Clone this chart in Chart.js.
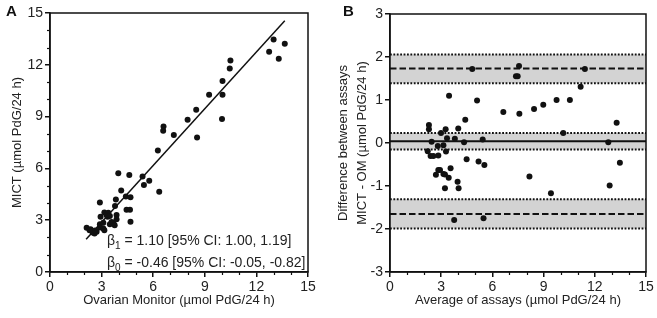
<!DOCTYPE html>
<html>
<head>
<meta charset="utf-8">
<script src="https://cdn.jsdelivr.net/npm/chart.js@4.4.1/dist/chart.umd.min.js"></script>
<style>
  body { margin: 0; background: #fff; width: 657px; height: 318px; overflow: hidden; position: relative; font-family: "Liberation Sans", Arial, sans-serif; }
  .panel { position: absolute; top: 0; }
  .tag { position: absolute; top: 2px; font-weight: bold; font-size: 15px; color: #111; }
</style>
</head>
<body>
<div class="panel" style="left:0"><canvas id="chartA" width="330" height="318"></canvas></div>
<div class="panel" style="left:330px"><canvas id="chartB" width="327" height="318"></canvas></div>
<div class="tag" style="left:6px">A</div>
<div class="tag" style="left:343px">B</div>
<script>
// Panel A: MICT vs Ovarian Monitor
const omValues = [2.13, 2.36, 2.48, 2.59, 2.71, 2.62, 2.3, 2.9, 3.1, 3.16, 2.9, 3.1, 3.48, 3.58, 3.68, 3.76,
  2.94, 3.16, 3.39, 3.29, 3.35, 3.48, 3.87, 3.87, 2.9, 3.78, 3.83, 4.14, 4.41, 4.68, 4.45, 4.65, 4.68,
  3.97, 4.61, 5.38, 5.46, 5.77, 6.35, 6.27, 6.6, 6.58, 7.2, 8.0, 8.5, 8.55, 10.0, 9.25, 10.03, 10.03,
  10.45, 10.49, 12.74, 13.0, 13.3, 13.65];
const mictValues = [2.56, 2.48, 2.29, 2.23, 2.33, 2.4, 2.42, 2.58, 2.52, 2.42, 2.77, 2.85, 2.77, 2.9, 2.85, 2.71,
  3.2, 3.45, 3.43, 3.3, 3.2, 3.24, 3.3, 3.05, 4.03, 3.82, 4.2, 4.72, 4.37, 4.33, 3.6, 3.6, 2.91,
  5.72, 5.62, 5.53, 5.04, 5.29, 4.65, 7.03, 8.42, 8.18, 7.93, 8.82, 9.4, 7.79, 8.86, 10.27, 10.27, 11.06,
  11.78, 12.25, 12.75, 13.47, 12.35, 13.22];
const fitLineX = [2.1, 13.65];
const fitLineY = [1.9, 14.55];
const betaLines = [
  ['β', '1', ' = 1.10 [95% CI: 1.00, 1.19]'],
  ['β', '0', ' = -0.46 [95% CI: -0.05, -0.82]']
];

// Panel B: Bland-Altman
const avgValues = [2.28, 2.28, 2.21, 2.38, 2.54, 2.44, 2.69, 2.8, 2.83, 2.83, 2.93, 2.99, 3.13, 3.13, 3.22, 3.22,
  3.26, 3.28, 3.34, 3.44, 3.46, 3.55, 3.76, 3.8, 3.96, 4.0, 4.02, 4.34, 4.41, 4.49, 4.82, 5.1, 5.19, 5.43,
  5.48, 5.53, 6.64, 7.38, 7.48, 7.56, 7.58, 8.17, 8.44, 8.98, 9.43, 9.76, 10.15, 10.54, 11.17, 11.42,
  12.79, 12.87, 13.28, 13.47];
const diffValues = [0.42, 0.32, -0.19, -0.3, -0.3, 0.03, -0.74, -0.07, -0.29, -0.63, -0.63, 0.23, -0.05, -0.72, -0.73, -1.05,
  0.32, -0.2, 0.11, -0.81, 1.1, -0.59, -1.79, 0.1, -0.9, 0.34, -1.05, 0.02, 0.54, -0.38, 1.72, 0.99, -0.43, 0.08,
  -1.75, -0.51, 0.72, 1.55, 1.55, 1.79, 0.68, -0.78, 0.79, 0.89, -1.17, 1.0, 0.23, 1.0, 1.31, 1.72,
  0.02, -0.99, 0.47, -0.46];
const lineValues = [-1.65, 0.04, 1.73];      // lower LoA, mean bias, upper LoA
const ciLower = [-1.99, -0.15, 1.39];
const ciUpper = [-1.31, 0.23, 2.06];

const xTicks = [0, 3, 6, 9, 12, 15];
const yTicksA = [0, 3, 6, 9, 12, 15];
const yTicksB = [-3, -2, -1, 0, 1, 2, 3];

const ink = '#111';
const textColor = '#222';
const fontFamily = '"Liberation Sans", Arial, sans-serif';

// frame on all four sides + short minor ticks
const framePlugin = {
  id: 'frame',
  afterDraw(chart, args, opts) {
    const ctx = chart.ctx;
    const a = chart.chartArea;
    ctx.save();
    ctx.strokeStyle = ink;
    ctx.lineWidth = 1.5;
    ctx.strokeRect(a.left, a.top, a.right - a.left, a.bottom - a.top);
    ctx.lineWidth = 1.2;
    const xs = chart.scales.x;
    for (let v = xs.min; v <= xs.max; v++) {
      if (v % 3 === 0) continue;
      const px = Math.round(xs.getPixelForValue(v)) + 0.5;
      ctx.beginPath(); ctx.moveTo(px, a.bottom); ctx.lineTo(px, a.bottom + 3); ctx.stroke();
    }
    if (opts.minorY) {
      const ys = chart.scales.y;
      for (let v = ys.min; v <= ys.max; v++) {
        if (v % 3 === 0) continue;
        const py = Math.round(ys.getPixelForValue(v)) + 0.5;
        ctx.beginPath(); ctx.moveTo(a.left, py); ctx.lineTo(a.left - 3, py); ctx.stroke();
      }
    }
    ctx.restore();
  }
};

// regression coefficients text with subscripts
const betaPlugin = {
  id: 'betaText',
  afterDatasetsDraw(chart) {
    const ctx = chart.ctx;
    const a = chart.chartArea;
    ctx.save();
    ctx.fillStyle = textColor;
    ctx.textBaseline = 'alphabetic';
    betaLines.forEach((parts, i) => {
      let x = a.left + 57;
      const y = a.bottom - 27 + i * 22;
      ctx.font = '14px ' + fontFamily;
      ctx.fillText(parts[0], x, y);
      x += ctx.measureText(parts[0]).width;
      ctx.font = '10px ' + fontFamily;
      ctx.fillText(parts[1], x, y + 4);
      x += ctx.measureText(parts[1]).width;
      ctx.font = '14px ' + fontFamily;
      ctx.fillText(parts[2], x, y);
    });
    ctx.restore();
  }
};

function axis(min, max, ticks, title, titleOpts, fixed) {
  return {
    type: 'linear',
    min: min,
    max: max,
    afterBuildTicks: s => { s.ticks = ticks.map(v => ({ value: v })); },
    afterFit: fixed,
    grid: { drawOnChartArea: false, tickLength: 5, color: ink, lineWidth: 1.5 },
    border: { color: ink, width: 1.5 },
    ticks: { color: textColor, padding: 2, font: { size: 14, family: fontFamily } },
    title: Object.assign({ display: true, text: title, color: textColor,
      font: { size: 13, family: fontFamily } }, titleOpts)
  };
}

const scatterStyle = {
  pointRadius: 3,
  pointBackgroundColor: ink,
  pointBorderWidth: 0,
  showLine: false,
  order: 0
};

new Chart(document.getElementById('chartA'), {
  type: 'scatter',
  data: {
    datasets: [
      Object.assign({ data: omValues.map((v, i) => ({ x: v, y: mictValues[i] })) }, scatterStyle),
      {
        type: 'line',
        data: fitLineX.map((v, i) => ({ x: v, y: fitLineY[i] })),
        borderColor: ink,
        borderWidth: 1.5,
        pointRadius: 0,
        fill: false,
        order: 1
      }
    ]
  },
  options: {
    responsive: false,
    animation: false,
    layout: { padding: { top: 13, right: 22, left: 0, bottom: 0 } },
    plugins: { legend: { display: false }, tooltip: { enabled: false }, frame: { minorY: true } },
    scales: {
      x: axis(0, 15, xTicks, 'Ovarian Monitor (µmol PdG/24 h)', { padding: { top: 0, bottom: 10 } },
        s => { s.height = 46; }),
      y: axis(0, 15, yTicksA, 'MICT (µmol PdG/24 h)', { padding: { top: 10, bottom: 0 } },
        s => { s.width = 50; })
    }
  },
  plugins: [framePlugin, betaPlugin]
});

const bDatasets = [
  Object.assign({ data: avgValues.map((v, i) => ({ x: v, y: diffValues[i] })) }, scatterStyle)
];
lineValues.forEach((v, i) => {
  bDatasets.push({
    type: 'line',
    data: [{ x: 0, y: ciUpper[i] }, { x: 15, y: ciUpper[i] }],
    borderColor: ink, borderWidth: 2, borderDash: [1.8, 1.6],
    pointRadius: 0,
    fill: { value: ciLower[i] },
    backgroundColor: '#d3d3d3',
    order: 2
  });
  bDatasets.push({
    type: 'line',
    data: [{ x: 0, y: ciLower[i] }, { x: 15, y: ciLower[i] }],
    borderColor: ink, borderWidth: 2, borderDash: [1.8, 1.6],
    pointRadius: 0, fill: false, order: 1
  });
  bDatasets.push({
    type: 'line',
    data: [{ x: 0, y: v }, { x: 15, y: v }],
    borderColor: ink, borderWidth: 2, borderDash: i === 1 ? [] : [6.5, 3],
    pointRadius: 0, fill: false, order: 1
  });
});

new Chart(document.getElementById('chartB'), {
  type: 'scatter',
  data: { datasets: bDatasets },
  options: {
    responsive: false,
    animation: false,
    layout: { padding: { top: 14, right: 11, left: 0, bottom: 0 } },
    plugins: { legend: { display: false }, tooltip: { enabled: false }, frame: { minorY: false } },
    scales: {
      x: axis(0, 15, xTicks, 'Average of assays (µmol PdG/24 h)', { padding: { top: 0, bottom: 10 } },
        s => { s.height = 46; }),
      y: axis(-3, 3, yTicksB, ['Difference between assays', 'MICT - OM (µmol PdG/24 h)'],
        { padding: { top: 4, bottom: 0 }, font: { size: 13, family: fontFamily, lineHeight: 1.45 } },
        s => { s.width = 60; })
    }
  },
  plugins: [framePlugin]
});
</script>
</body>
</html>
